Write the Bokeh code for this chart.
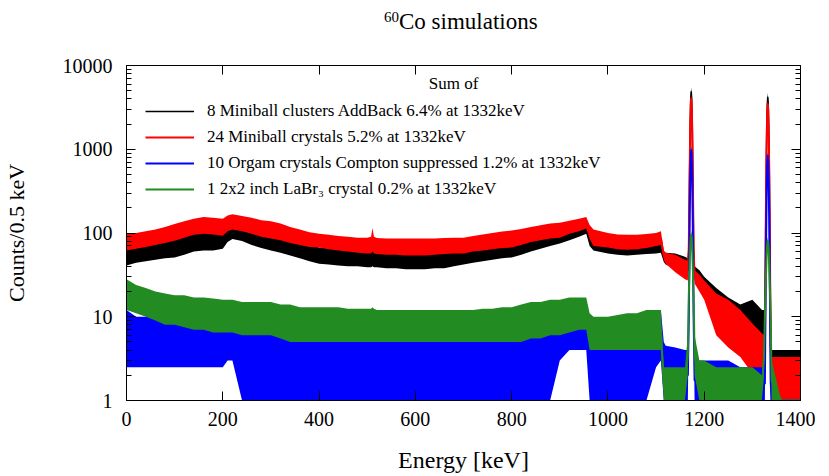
import numpy as np
from bokeh.plotting import figure
from bokeh.layouts import column
from bokeh.models import (ColumnDataSource, LinearAxis, LogAxis, Range1d, Legend,
                          LegendItem, Label, FixedTicker, CustomJSTickFormatter, Div)
from bokeh.embed import file_html
from bokeh.resources import INLINE

FONT = "Liberation Serif"

# ---------------- data ----------------
energy = [0, 20, 40, 60, 80, 100, 120, 140, 160, 180, 200, 210, 220, 240, 260, 280, 300, 320, 340, 360,
          380, 400, 420, 440, 460, 480, 500, 508, 511, 514, 520, 540, 560, 580, 600, 620, 640, 660, 680, 700,
          720, 740, 760, 780, 800, 820, 840, 860, 880, 900, 920, 940, 955, 962, 970, 1000, 1020, 1040, 1060, 1080,
          1100, 1110, 1116, 1120, 1140, 1160, 1166, 1168, 1170, 1171, 1172, 1173, 1174, 1175, 1176, 1178, 1180, 1190, 1200, 1225,
          1250, 1275, 1300, 1320, 1324, 1326, 1328, 1329, 1330, 1331, 1332, 1333, 1334, 1335, 1336, 1338, 1340, 1360, 1380, 1400]

black_hi = [67, 72, 76, 80, 85, 88, 93, 100, 102, 100, 98, 115, 120, 115, 108, 100, 98, 92, 85, 80,
            73, 67, 66, 64, 63, 62, 62, 63, 70, 62, 60, 59, 58, 57, 57, 57, 58, 59, 60, 62,
            65, 68, 70, 72, 75, 80, 86, 92, 100, 107, 112, 118, 120, 95, 88, 81, 78, 76, 76, 76,
            78, 82, 60, 58, 57, 52, 50, 90, 935, 2530, 4500, 5500, 4500, 2530, 935, 90, 40, 36, 30, 22,
            17, 14, 16, 12, 12, 12, 210, 800, 2170, 3870, 4720, 3870, 2170, 800, 210, 12, 4, 4, 4, 4]
black_lo = [41, 44, 46, 48, 50, 51, 55, 60, 62, 62, 65, 78, 85, 80, 72, 66, 62, 58, 54, 50,
            46, 43, 42, 41, 40, 40, 39, 39, 40, 39, 39, 38, 38, 37, 37, 37, 38, 38, 40, 42,
            44, 46, 48, 50, 51, 55, 60, 65, 70, 75, 82, 90, 98, 70, 62, 57, 55, 54, 55, 56,
            57, 58, 45, 42, 38, 33, 33, 45, 750, 2000, 3600, 4400, 3600, 2000, 750, 45, 27, 24, 20, 12,
            8.3, 5.2, 3.3, 3.3, 3.3, 4, 170, 640, 1740, 3100, 3800, 3100, 1740, 640, 170, 4, 1, 1, 1, 1]

red_hi = [98, 100, 105, 110, 118, 128, 138, 148, 155, 152, 148, 162, 168, 160, 152, 142, 138, 130, 118, 110,
          102, 98, 95, 92, 90, 88, 88, 90, 115, 90, 87, 86, 86, 86, 86, 86, 86, 87, 88, 88,
          92, 96, 100, 104, 107, 112, 118, 124, 130, 133, 140, 148, 155, 125, 110, 100, 96, 95, 95, 97,
          100, 105, 62, 58, 55, 48, 46, 80, 780, 2110, 3760, 4590, 3760, 2110, 780, 75, 36, 32, 27, 19,
          16, 12, 8.3, 6.3, 6, 6, 180, 670, 1810, 3220, 3930, 3220, 1810, 670, 180, 10, 3.3, 3.3, 3.3, 3.3]
red_lo = [62, 65, 68, 72, 76, 81, 88, 95, 98, 96, 93, 105, 110, 105, 98, 90, 86, 82, 76, 72,
          68, 67, 64, 62, 60, 58, 57, 57, 60, 57, 56, 55, 55, 54, 54, 54, 55, 56, 57, 57,
          60, 62, 64, 66, 67, 72, 78, 82, 86, 88, 98, 105, 113, 85, 70, 67, 64, 63, 64, 66,
          70, 72, 48, 43, 34, 28, 27, 60, 620, 1700, 3000, 3700, 3000, 1700, 620, 55, 25, 20, 16, 6,
          4.3, 3.3, 2.1, 2.1, 2, 2, 140, 540, 1450, 2600, 3150, 2600, 1450, 540, 140, 2, 1, 1, 1, 1]

blue_hi = [12, 10, 10, 10, 9, 9, 9, 9, 8.5, 8.5, 8, 8, 8, 7.5, 7.5, 7, 7, 7, 7, 7,
           7, 6.5, 6.5, 6.5, 6.5, 6.5, 6.5, 6.5, 7, 6.5, 6.5, 6.5, 6.5, 6.5, 6.5, 6.5, 6.5, 6.5, 6.5, 6.5,
           7, 7, 7, 7, 7.5, 7.5, 8, 8, 8.5, 9, 10, 12, 13, 8, 7, 7, 7, 7, 7.5, 9,
           11, 12, 5, 4.5, 4.3, 4, 4, 12, 190, 510, 910, 1110, 910, 510, 190, 12, 3, 3, 3, 3,
           3, 2.5, 2.5, 2.5, 2.5, 2.5, 40, 160, 436, 780, 948, 780, 436, 160, 40, 3, 1, 1, 1, 1]
blue_lo = [2.5, 2.5, 2.5, 2.5, 2.5, 2.5, 2.5, 2.5, 2.5, 2.5, 2.5, 3, 3, 1, 1, 1, 1, 1, 1, 1,
           1, 1, 1, 1, 1, 1, 1, 1, 1, 1, 1, 1, 1, 1, 1, 1, 1, 1, 1, 1,
           1, 1, 1, 1, 1, 1, 1, 1, 1, 3, 4, 4, 4, 1, 1, 1, 1, 1, 1, 1,
           2.5, 3, 1, 1, 1, 1, 1, 8, 150, 410, 730, 890, 730, 410, 150, 8, 1, 1, 1, 1,
           1, 1, 1, 1, 1, 1, 32, 128, 350, 620, 760, 620, 350, 128, 32, 1, 1, 1, 1, 1]

green_hi = [28, 24, 22, 20, 19, 18, 18, 17, 17, 16.5, 16, 16, 16, 15, 15, 15, 15, 14, 14, 13,
            13, 13, 13, 13, 12.5, 12.5, 12.5, 12.5, 13, 12.5, 12, 12, 12, 12, 12, 12, 12, 12, 12, 12,
            12, 12.5, 12.5, 13, 13, 14, 15, 15, 16, 16, 17, 17, 17, 11, 10, 10, 10.5, 11, 11, 12,
            12, 12, 2.5, 2.5, 2.5, 2.5, 6, 22, 50, 75, 97, 107, 97, 75, 50, 22, 6, 3, 3, 2.5,
            2.5, 2.5, 2.5, 2, 5, 12, 30, 45, 68, 82, 89, 82, 68, 45, 30, 12, 3, 1, 1, 1]
green_lo = [12, 11, 10, 9, 8, 8, 7.5, 7, 7, 6.5, 6.5, 6.5, 6.5, 6, 6, 6, 6, 5.5, 5, 5,
            5, 5, 5, 5, 5, 5, 5, 5, 5, 5, 5, 5, 5, 5, 5, 5, 5, 5, 5, 5,
            5, 5, 5, 5, 5, 5, 5.5, 5.5, 6, 6, 6.5, 7, 7, 4, 4, 4, 4, 4, 4, 4,
            4, 4, 1, 1, 1, 1, 2, 15, 40, 62, 80, 88, 80, 62, 40, 15, 2, 1, 1, 1,
            1, 1, 1, 1, 2, 8, 24, 37, 56, 68, 74, 68, 56, 37, 24, 8, 1, 1, 1, 1]

series_labels = ["8 Miniball clusters AddBack 6.4% at 1332keV",
                 "24 Miniball crystals 5.2% at 1332keV",
                 "10 Orgam crystals Compton suppressed 1.2% at 1332keV",
                 "1 2x2 inch LaBr\u2083 crystal 0.2% at 1332keV"]
series_colors = ["#000000", "#ff0000", "#0000ff", "#228b22"]
legend_widths = [1.5, 2.0, 2.0, 2.0]

x_ticks = [0, 200, 400, 600, 800, 1000, 1200, 1400]
y_ticks = [1, 10, 100, 1000, 10000]

TITLE_H = 40

# ---------------- figure ----------------
p = figure(y_axis_type="log", x_range=Range1d(0, 1400), y_range=Range1d(1, 10000),
           frame_width=674, frame_height=335,
           min_border_left=126, min_border_right=15, min_border_top=65 - TITLE_H, min_border_bottom=72,
           output_backend="svg", toolbar_location=None, title_location=None)
p.xgrid.visible = False
p.ygrid.visible = False
p.outline_line_color = "black"
p.background_fill_color = "white"
p.border_fill_color = "white"

minor = [m * 10 ** k for k in range(4) for m in range(2, 10)]

def style_axis(ax, log, labels, label_size="20px"):
    ax.axis_line_color = "black"
    ax.major_tick_line_color = "black"
    ax.major_tick_in = 9
    ax.major_tick_out = 0
    ax.minor_tick_in = 5
    ax.minor_tick_out = 0
    if log:
        ax.ticker = FixedTicker(ticks=y_ticks, minor_ticks=minor)
        ax.minor_tick_line_color = "black"
    else:
        ax.ticker = FixedTicker(ticks=x_ticks)
        ax.minor_tick_line_color = None
    if labels:
        ax.formatter = CustomJSTickFormatter(code="return tick.toFixed(0);")
        ax.major_label_text_font = FONT
        ax.major_label_text_font_size = "20px"
        ax.major_label_text_color = "black"
        ax.axis_label_text_font = FONT
        ax.axis_label_text_font_size = label_size
        ax.axis_label_text_font_style = "normal"
        ax.axis_label_text_color = "black"
    else:
        ax.formatter = CustomJSTickFormatter(code="return '';")
        ax.major_label_text_font_size = "0px"

xa = p.xaxis[0]
ya = p.yaxis[0]
style_axis(xa, False, True, "24px")
style_axis(ya, True, True, "22px")
xa.axis_label = "Energy [keV]"
ya.axis_label = "Counts/0.5 keV"
xa.major_label_standoff = 11
xa.axis_label_standoff = 18
ya.major_label_standoff = 14
ya.axis_label_standoff = 31

top = LinearAxis()
style_axis(top, False, False)
p.add_layout(top, "above")
right = LogAxis()
style_axis(right, True, False)
p.add_layout(right, "right")

his = [black_hi, red_hi, blue_hi, green_hi]
los = [black_lo, red_lo, blue_lo, green_lo]
items = []
for lab, col, lw, hi, lo in zip(series_labels, series_colors, legend_widths, his, los):
    src = ColumnDataSource(dict(x=energy, hi=hi, lo=lo,
                                mid=list(np.sqrt(np.array(hi, float) * np.array(lo, float)))))
    p.varea(x="x", y1="lo", y2="hi", source=src, fill_color=col, fill_alpha=1.0)
    r = p.line(x="x", y="mid", source=src, line_color=col, line_width=lw)
    items.append(LegendItem(label=lab, renderers=[r]))

legend = Legend(items=items, location=(19, 201), orientation="vertical",
                background_fill_alpha=0, border_line_alpha=0,
                label_text_font=FONT, label_text_font_size="17px", label_text_color="black",
                glyph_width=49, glyph_height=20, label_height=20, label_standoff=13,
                spacing=6, padding=0, margin=0)
p.add_layout(legend)

p.add_layout(Label(x=327, y=317, x_units="screen", y_units="screen", text="Sum of",
                   text_align="center", text_baseline="middle",
                   text_font=FONT, text_font_size="17px", text_color="black"))

# title with superscript mass number, as real HTML text above the figure
title = Div(text="<span style='font-size:15px;vertical-align:7px;line-height:0'>60</span>Co simulations",
            width=815, height=TITLE_H,
            styles={"font-family": FONT, "font-size": "23px", "line-height": "30px",
                    "padding-left": "384px", "padding-top": "7px", "color": "black",
                    "box-sizing": "border-box", "margin": "0"})

layout = column(title, p, spacing=0)

open("out.html", "w").write(file_html(layout, INLINE))
